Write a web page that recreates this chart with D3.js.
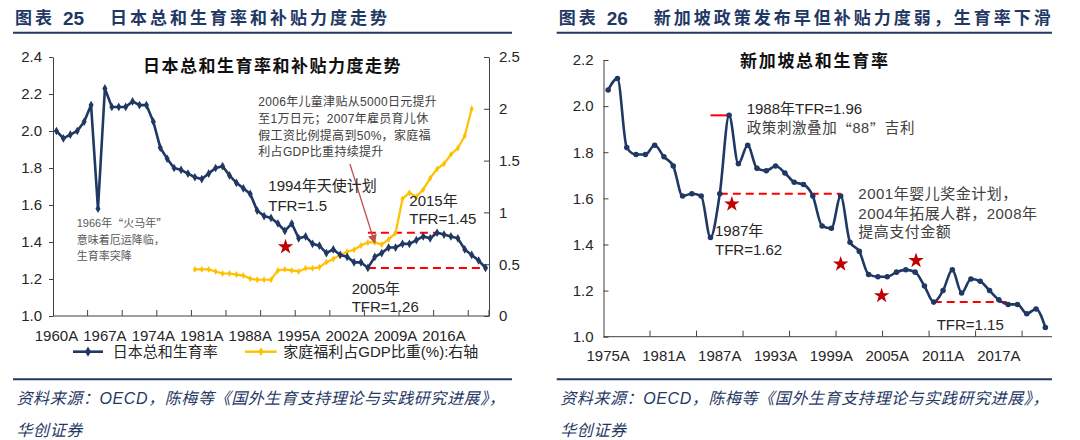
<!DOCTYPE html>
<html><head><meta charset="utf-8">
<script src="https://cdn.jsdelivr.net/npm/d3@7"></script>
<style>
body{margin:0;background:#fff;}
svg{display:block;}
text{font-family:"Liberation Sans",Arial,"Noto Sans CJK SC",sans-serif;}
.fw{font-feature-settings:"fwid" 1;font-family:"Noto Sans CJK SC";}
</style></head><body>
<svg id="c" width="1080" height="440"></svg>
<script>
// ---------------- DATA ----------------
const jpYears = d3.range(1960, 2023);
const jpTFR = [2.00,1.96,1.98,2.00,2.05,2.14,1.58,2.23,2.13,2.13,
               2.13,2.16,2.14,2.14,2.05,1.91,1.85,1.80,1.79,1.77,
               1.75,1.74,1.77,1.80,1.81,1.76,1.72,1.69,1.66,1.57,
               1.54,1.53,1.50,1.46,1.50,1.42,1.43,1.39,1.38,1.34,
               1.36,1.33,1.32,1.29,1.29,1.26,1.32,1.34,1.37,1.37,
               1.39,1.39,1.41,1.43,1.42,1.45,1.44,1.43,1.42,1.36,
               1.33,1.30,1.26];
const jpWelfareYears = d3.range(1980, 2021);
const jpWelfare = [0.45,0.45,0.45,0.43,0.41,0.41,0.40,0.39,0.36,0.35,
                   0.35,0.35,0.44,0.45,0.44,0.43,0.46,0.46,0.47,0.52,
                   0.55,0.59,0.62,0.64,0.68,0.71,0.71,0.69,0.74,0.80,
                   1.13,1.19,1.15,1.22,1.33,1.42,1.47,1.56,1.62,1.74,
                   2.00];
const jpLeftTicks = [1.0,1.2,1.4,1.6,1.8,2.0,2.2,2.4];
const jpRightTicks = [0,0.5,1,1.5,2,2.5];
const jpXLabels = [1960,1967,1974,1981,1988,1995,2002,2009,2016];

const sgYears = d3.range(1975, 2023);
const sgTFR = [2.07,2.12,1.82,1.79,1.79,1.83,1.78,1.74,1.61,1.62,
               1.61,1.43,1.62,1.96,1.75,1.83,1.73,1.72,1.74,1.71,
               1.67,1.66,1.61,1.48,1.47,1.61,1.41,1.37,1.27,1.26,
               1.26,1.28,1.29,1.28,1.22,1.15,1.20,1.29,1.19,1.25,
               1.24,1.20,1.16,1.14,1.14,1.10,1.12,1.04];
const sgTicks = [1.0,1.2,1.4,1.6,1.8,2.0,2.2];
const sgXLabels = [1975,1981,1987,1993,1999,2005,2011,2017];

// ---------------- HELPERS ----------------
const svg = d3.select('#c');
const NAVY = '#1F3864', ORANGE = '#FFC000', RED = '#FF0000', DARKRED = '#C00000';
const TXT = '#262626';

function txt(g, x, y, s, o = {}) {
  return g.append('text').attr('x', x).attr('y', y)
    .attr('dominant-baseline', 'central')
    .attr('font-size', o.size || 15)
    .attr('fill', o.fill || TXT)
    .attr('font-weight', o.weight || 400)
    .attr('font-style', o.style || 'normal')
    .attr('letter-spacing', o.ls || 0)
    .attr('font-family', o.family || null)
    .attr('text-anchor', o.anchor || 'start')
    .text(s);
}
// text with full-width quotes
function txtQ(g, x, y, parts, o = {}) {
  const t = txt(g, x, y, '', o);
  parts.forEach(p => {
    const ts = t.append('tspan').text(p);
    if (p === '“' || p === '”') ts.attr('class', 'fw');
  });
  return t;
}
function header(x0, x1, num, title) {
  const g = svg.append('g');
  txt(g, x0 + 2, 18.5, '图表', {size: 17, weight: 700, fill: NAVY, ls: 3, family: '"Noto Sans CJK SC"'});
  txt(g, x0 + 50, 18.5, num, {size: 19, weight: 700, fill: NAVY, family: '"Liberation Serif","Noto Sans CJK SC"'});
  txt(g, x0 + 97, 18.5, title, {size: 17, weight: 700, fill: NAVY, ls: 3, family: '"Noto Sans CJK SC"'});
  g.append('line').attr('x1', x0).attr('x2', x1).attr('y1', 32.7).attr('y2', 32.7)
    .attr('stroke', NAVY).attr('stroke-width', 2);
  g.append('line').attr('x1', x0).attr('x2', x1).attr('y1', 379.3).attr('y2', 379.3)
    .attr('stroke', NAVY).attr('stroke-width', 2);
  txt(g, x0 + 3.5, 398.3, '资料来源：OECD，陈梅等《国外生育支持理论与实践研究进展》，',
      {size: 16, fill: NAVY, style: 'italic', ls: 0.6, family: '"Noto Sans CJK SC"'});
  txt(g, x0 + 3.5, 430, '华创证券', {size: 16, fill: NAVY, style: 'italic', ls: 0.6, family: '"Noto Sans CJK SC"'});
}
function styleAxis(sel) {
  sel.selectAll('path,line').attr('stroke', '#404040').attr('stroke-width', 1);
  sel.selectAll('text').attr('font-size', 15).attr('fill', TXT);
}
function star(g, x, y) {
  g.append('path').attr('d', d3.symbol(d3.symbolStar, 75)())
    .attr('transform', `translate(${x},${y})`).attr('fill', DARKRED);
}
function dashed(g, x1, x2, y, solid) {
  g.append('line').attr('x1', x1).attr('x2', x2).attr('y1', y).attr('y2', y)
    .attr('stroke', RED).attr('stroke-width', 2)
    .attr('stroke-dasharray', solid ? null : '8,5');
}

// ---------------- LEFT: JAPAN ----------------
header(13, 512, '25', '日本总和生育率和补贴力度走势');
{
  const g = svg.append('g');
  const xL = d3.scaleBand().domain(jpYears).range([53, 489]);
  const bw = xL.bandwidth();
  const cx = y => xL(jpYears[0]) + (y - jpYears[0] + 0.5) * bw;
  const yL = d3.scaleLinear().domain([1.0, 2.4]).range([316, 57]);
  const yR = d3.scaleLinear().domain([0, 2.5]).range([316, 57]);

  const ax1 = g.append('g').attr('transform', 'translate(53,0)')
    .call(d3.axisLeft(yL).tickValues(jpLeftTicks).tickFormat(d3.format('.1f')).tickSizeInner(4).tickSizeOuter(0).tickPadding(7));
  styleAxis(ax1);
  const ax2 = g.append('g').attr('transform', 'translate(489,0)')
    .call(d3.axisRight(yR).tickValues(jpRightTicks).tickFormat(d => d).tickSizeInner(-5).tickSizeOuter(0).tickPadding(10));
  styleAxis(ax2);
  const ax3 = g.append('g').attr('transform', 'translate(0,316)')
    .call(d3.axisBottom(xL).tickValues(jpXLabels).tickFormat(d => d + 'A').tickSize(0).tickPadding(14));
  styleAxis(ax3);
  ax3.select('.domain').attr('d', 'M53,0H489');
  g.append('g').selectAll('line').data(jpYears.filter((d, i) => i % 5 === 0 && i > 0).concat([null]))
    .join('line')
    .attr('x1', d => d === null ? 489 : xL(d)).attr('x2', d => d === null ? 489 : xL(d))
    .attr('y1', 316).attr('y2', 310).attr('stroke', '#404040');

  dashed(g, cx(2005), cx(2015), yL(1.45));
  dashed(g, cx(2005), cx(2022), yL(1.26));

  const wData = jpWelfareYears.map((y, i) => [y, jpWelfare[i]]);
  g.append('path').datum(wData)
    .attr('d', d3.line().x(d => cx(d[0])).y(d => yR(d[1])))
    .attr('fill', 'none').attr('stroke', ORANGE).attr('stroke-width', 2.2);
  g.append('g').selectAll('path').data(wData).join('path')
    .attr('d', d3.symbol(d3.symbolDiamond, 14)())
    .attr('transform', d => `translate(${cx(d[0])},${yR(d[1])})`).attr('fill', ORANGE);

  const tData = jpYears.map((y, i) => [y, jpTFR[i]]);
  g.append('path').datum(tData)
    .attr('d', d3.line().x(d => cx(d[0])).y(d => yL(d[1])))
    .attr('fill', 'none').attr('stroke', NAVY).attr('stroke-width', 2.6);
  g.append('g').selectAll('path').data(tData).join('path')
    .attr('d', d3.symbol(d3.symbolDiamond, 22)())
    .attr('transform', d => `translate(${cx(d[0])},${yL(d[1])})`).attr('fill', NAVY);

  star(g, cx(1993.1), yL(1.374));

  svg.append('defs').append('marker').attr('id', 'arr').attr('viewBox', '0 0 10 10')
    .attr('refX', 9).attr('refY', 5).attr('markerWidth', 7).attr('markerHeight', 7)
    .attr('orient', 'auto').append('path').attr('d', 'M0,0L10,5L0,10z').attr('fill', '#C0504D');
  g.append('line').attr('x1', cx(2002.4)).attr('y1', yR(1.467)).attr('x2', cx(2006.0)).attr('y2', yR(0.705))
    .attr('stroke', '#C0504D').attr('stroke-width', 1.3).attr('marker-end', 'url(#arr)');

  txt(g, 143, 66.7, '日本总和生育率和补贴力度走势', {size: 17, weight: 700, fill: '#111', ls: 1.5, family: '"Noto Sans CJK SC"'});
  const note = ['2006年儿童津贴从5000日元提升', '至1万日元；2007年雇员育儿休', '假工资比例提高到50%，家庭福', '利占GDP比重持续提升'];
  [102.3, 119.3, 136, 151.5].forEach((y, i) => txt(g, 258.3, y, note[i], {size: 12, fill: '#404040', ls: 0.3}));
  txt(g, 268.3, 185.7, '1994年天使计划');
  txt(g, 268.3, 205.7, 'TFR=1.5');
  txt(g, 409.3, 200, '2015年');
  txt(g, 409.3, 218.3, 'TFR=1.45');
  txt(g, 351.7, 288.3, '2005年');
  txt(g, 351.7, 306.7, 'TFR=1.26');
  txtQ(g, 76.7, 223.3, ['1966年', '“', '火马年', '”'], {size: 11, fill: '#595959', family: '"Noto Sans CJK SC"'});
  txt(g, 76.7, 240, '意味着厄运降临，', {size: 11, fill: '#595959', family: '"Noto Sans CJK SC"'});
  txt(g, 76.7, 255.5, '生育率突降', {size: 11, fill: '#595959', family: '"Noto Sans CJK SC"'});

  const lg = g.append('g');
  lg.append('line').attr('x1', 73).attr('x2', 103).attr('y1', 351.7).attr('y2', 351.7).attr('stroke', NAVY).attr('stroke-width', 2.6);
  lg.append('path').attr('d', d3.symbol(d3.symbolDiamond, 30)()).attr('transform', 'translate(88,351.7)').attr('fill', NAVY);
  txt(lg, 112.7, 351.7, '日本总和生育率', {size: 15, fill: TXT});
  lg.append('line').attr('x1', 245).attr('x2', 276.7).attr('y1', 351.7).attr('y2', 351.7).attr('stroke', ORANGE).attr('stroke-width', 2.4);
  lg.append('path').attr('d', d3.symbol(d3.symbolDiamond, 22)()).attr('transform', 'translate(261,351.7)').attr('fill', ORANGE);
  txt(lg, 283.3, 351.7, '家庭福利占GDP比重(%):右轴', {size: 15, fill: TXT});
}

// ---------------- RIGHT: SINGAPORE ----------------
header(556.7, 1052, '26', '新加坡政策发布早但补贴力度弱，生育率下滑');
{
  const g = svg.append('g');
  const xS = d3.scaleBand().domain(sgYears).range([603.5, 1050]);
  const bw = xS.bandwidth();
  const cx = y => xS(sgYears[0]) + (y - sgYears[0] + 0.5) * bw;
  const yS = d3.scaleLinear().domain([1.0, 2.2]).range([336.7, 60]);

  const ax1 = g.append('g').attr('transform', 'translate(603.5,0)')
    .call(d3.axisLeft(yS).tickValues(sgTicks).tickFormat(d3.format('.1f')).tickSizeInner(-5).tickSizeOuter(0).tickPadding(10));
  styleAxis(ax1);
  const ax3 = g.append('g').attr('transform', 'translate(0,336.7)')
    .call(d3.axisBottom(xS).tickValues(sgXLabels).tickFormat(d => d + 'A').tickSize(0).tickPadding(14));
  styleAxis(ax3);
  ax3.select('.domain').attr('d', 'M603.5,0H1052');
  g.append('g').selectAll('line').data(sgYears.filter((d, i) => i % 5 === 0 && i > 0))
    .join('line')
    .attr('x1', d => xS(d)).attr('x2', d => xS(d))
    .attr('y1', 336.7).attr('y2', 330.7).attr('stroke', '#404040');

  dashed(g, cx(1986), cx(1988), yS(1.96), true);
  dashed(g, cx(1987), cx(2000), yS(1.62));
  dashed(g, cx(2010), cx(2018), yS(1.15));

  const sData = sgYears.map((y, i) => [y, sgTFR[i]]);
  g.append('path').datum(sData)
    .attr('d', d3.line().x(d => cx(d[0])).y(d => yS(d[1])).curve(d3.curveMonotoneX))
    .attr('fill', 'none').attr('stroke', NAVY).attr('stroke-width', 2.6);
  g.append('g').selectAll('path').data(sData).join('path')
    .attr('d', d3.symbol(d3.symbolCircle, 24)())
    .attr('transform', d => `translate(${cx(d[0])},${yS(d[1])})`).attr('fill', NAVY);

  [[1988.3, 1.575], [2000.0, 1.315], [2004.4, 1.178], [2008.1, 1.33]].forEach(s => star(g, cx(s[0]), yS(s[1])));

  txt(g, 740, 61.7, '新加坡总和生育率', {size: 17, weight: 700, fill: '#111', ls: 1.7, family: '"Noto Sans CJK SC"'});
  txt(g, 746.7, 108.3, '1988年TFR=1.96');
  txtQ(g, 746.7, 128.3, ['政策刺激叠加', '“', '88', '”', '吉利'], {size: 14.5, fill: '#404040', ls: 0.6, family: '"Noto Sans CJK SC"'});
  txt(g, 858.3, 193.3, '2001年婴儿奖金计划，', {size: 15, fill: '#404040', ls: 0.5});
  txt(g, 858.3, 213.3, '2004年拓展人群，2008年', {size: 15, fill: '#404040', ls: 0.5});
  txt(g, 858.3, 231.7, '提高支付金额', {size: 15, fill: '#404040', ls: 0.5});
  txt(g, 715, 230, '1987年');
  txt(g, 715, 249.3, 'TFR=1.62');
  txt(g, 936.7, 324.3, 'TFR=1.15');
}
</script>
</body></html>
